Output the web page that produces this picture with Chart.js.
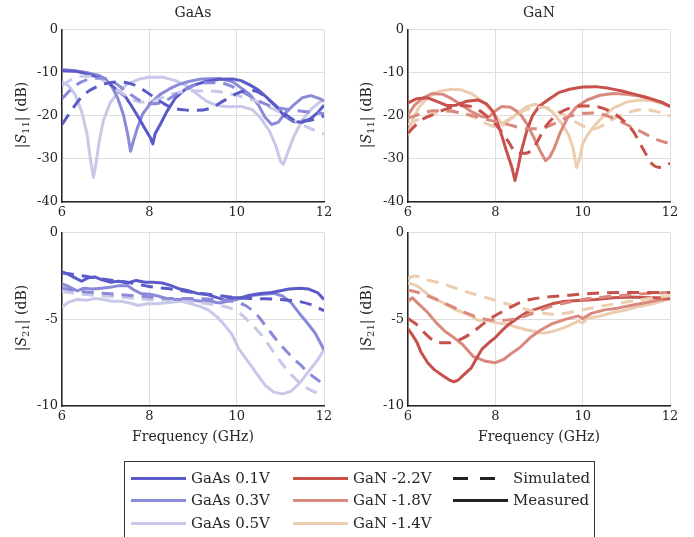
<!DOCTYPE html>
<html>
<head>
<meta charset="utf-8">
<script src="https://cdn.jsdelivr.net/npm/chart.js@4.4.1/dist/chart.umd.min.js"></script>
<style>
  body { margin: 0; background: #fff; }
  #page { position: relative; width: 694px; height: 537px; overflow: hidden; font-family: "DejaVu Serif", serif; color: #262626; }
  canvas { position: absolute; }
  .lbl { position: absolute; white-space: nowrap; font-size: 14px; }
  .ylbl { position: absolute; white-space: nowrap; font-size: 14px; transform: translate(-50%, -50%) rotate(-90deg); }
  .ylbl i { font-style: italic; }
  .ylbl sub { font-size: 10px; vertical-align: -3px; }
  #legend { position: absolute; left: 124px; top: 461px; width: 471px; height: 80px; border: 1px solid #333; box-sizing: border-box; }
  .item { position: absolute; font-size: 15px; line-height: 18px; }
  .sample { position: absolute; height: 3px; }
</style>
</head>
<body>
<div id="page">
  <canvas id="c1"></canvas>
  <canvas id="c2"></canvas>
  <canvas id="c3"></canvas>
  <canvas id="c4"></canvas>
  <div class="lbl" style="left:193px;top:4px;transform:translateX(-50%)">GaAs</div>
  <div class="lbl" style="left:539px;top:4px;transform:translateX(-50%)">GaN</div>
  <div class="ylbl" style="left:22px;top:115px">|<i>S</i><sub>11</sub>| (dB)</div>
  <div class="ylbl" style="left:367px;top:115px">|<i>S</i><sub>11</sub>| (dB)</div>
  <div class="ylbl" style="left:22px;top:318px">|<i>S</i><sub>21</sub>| (dB)</div>
  <div class="ylbl" style="left:367px;top:318px">|<i>S</i><sub>21</sub>| (dB)</div>
  <div class="lbl" style="left:193px;top:428px;transform:translateX(-50%)">Frequency (GHz)</div>
  <div class="lbl" style="left:539px;top:428px;transform:translateX(-50%)">Frequency (GHz)</div>
  <div id="legend"></div>
</div>
<script>
// valores (GHz, dB)
var freqTicks = [6, 8, 10, 12];
var s11Ticks = [0, -10, -20, -30, -40];
var s21Ticks = [0, -5, -10];

var gaasLabels = ['GaAs 0.1V', 'GaAs 0.3V', 'GaAs 0.5V'];
var ganLabels = ['GaN -2.2V', 'GaN -1.8V', 'GaN -1.4V'];
var gaasColors = ['#5a5ac8', '#8a8ad9', '#c8c8e8'];
var ganColors = ['#c8514b', '#da897f', '#eccdaf'];

// GaAs |S11|
var gaasS11Meas01 = [[6,-9.5],[6.3,-9.6],[6.6,-10.3],[6.9,-11.3],[7.1,-12.6],[7.3,-14.3],[7.45,-15.5],[7.6,-17.8],[7.75,-20.3],[7.9,-23],[8.02,-25],[8.08,-26.5],[8.13,-24.2],[8.25,-22],[8.4,-19],[8.6,-15.8],[8.8,-14],[9.0,-12.9],[9.3,-12],[9.6,-11.5],[9.9,-11.4],[10.1,-11.8],[10.3,-12.8],[10.5,-14],[10.7,-15.8],[10.9,-17.8],[11.1,-20],[11.3,-21.3],[11.5,-21.5],[11.7,-20.6],[11.85,-19.3],[12,-17.5]];
var gaasS11Meas03 = [[6,-9.2],[6.3,-9.5],[6.6,-10],[6.85,-10.6],[7.0,-11.5],[7.15,-13.3],[7.28,-16],[7.4,-19.5],[7.5,-24],[7.57,-28.2],[7.63,-26],[7.72,-23],[7.85,-19.5],[8.05,-16.8],[8.25,-15],[8.45,-13.8],[8.65,-12.8],[8.9,-12],[9.2,-11.4],[9.6,-11.3],[9.9,-12],[10.1,-13.5],[10.3,-15],[10.5,-17.5],[10.65,-20.3],[10.8,-22],[10.95,-21.5],[11.1,-19.5],[11.3,-17.5],[11.5,-15.8],[11.7,-15.3],[11.9,-16],[12,-16.5]];
var gaasS11Meas05 = [[6,-12],[6.15,-13],[6.3,-15],[6.45,-19],[6.57,-24],[6.65,-30],[6.72,-34.3],[6.78,-31],[6.85,-26],[6.95,-21],[7.1,-17],[7.3,-14.3],[7.5,-12.6],[7.75,-11.5],[8.0,-11],[8.3,-11],[8.6,-11.8],[8.85,-13],[9.05,-14.6],[9.3,-16.5],[9.55,-17.6],[9.8,-17.9],[10.1,-17.8],[10.35,-18.5],[10.55,-20.5],[10.75,-23.5],[10.9,-27],[11.0,-30.5],[11.07,-31.2],[11.15,-29],[11.3,-25],[11.5,-21],[11.7,-18.5],[11.9,-16.8],[12,-16.4]];
var gaasS11Sim01 = [[6,-22],[6.2,-19],[6.4,-16.2],[6.6,-14.3],[6.8,-13.2],[7.0,-12.5],[7.3,-12.1],[7.6,-12.6],[7.9,-14.2],[8.2,-16.3],[8.5,-18],[8.8,-18.6],[9.1,-18.7],[9.4,-18.2],[9.7,-16.5],[10.0,-14.8],[10.3,-14],[10.5,-14.5],[10.8,-16.8],[11.1,-19.5],[11.4,-21.2],[11.7,-21],[12,-20]];
var gaasS11Sim03 = [[6,-16],[6.3,-13],[6.6,-11.5],[6.9,-11.2],[7.2,-12.3],[7.5,-14.5],[7.8,-16.5],[8.1,-17.2],[8.4,-16.3],[8.7,-14.5],[9.0,-13],[9.3,-12.3],[9.6,-12.3],[9.9,-13.2],[10.2,-14.8],[10.5,-16.5],[10.8,-17.8],[11.1,-18.4],[11.4,-18.8],[11.7,-19.2],[12,-19.5]];
var gaasS11Sim05 = [[6,-13],[6.2,-11.6],[6.45,-10.8],[6.7,-10.8],[6.95,-11.8],[7.2,-13.5],[7.5,-15.5],[7.8,-16.8],[8.1,-16.5],[8.4,-15.3],[8.7,-14.5],[9.0,-14.2],[9.3,-14.2],[9.6,-14.4],[9.9,-15],[10.2,-15.8],[10.5,-16.8],[10.8,-18.2],[11.1,-19.8],[11.4,-21.5],[11.7,-23],[12,-24.2]];

// GaN |S11|
var ganS11Meas22 = [[6,-17],[6.2,-16],[6.45,-15.8],[6.7,-16.8],[6.9,-17.6],[7.1,-17.5],[7.35,-16.6],[7.6,-16.3],[7.8,-17.2],[7.95,-19],[8.1,-23],[8.25,-28],[8.38,-32],[8.45,-35],[8.52,-32],[8.6,-28],[8.72,-23.5],[8.85,-20],[9.0,-17.8],[9.2,-16.3],[9.45,-14.6],[9.7,-13.8],[10.0,-13.3],[10.3,-13.2],[10.6,-13.6],[10.9,-14.2],[11.2,-15],[11.5,-15.8],[11.8,-16.8],[12,-17.8]];
var ganS11Meas18 = [[6,-19.8],[6.15,-17.5],[6.35,-15.8],[6.55,-14.8],[6.8,-15],[7.0,-16],[7.2,-17.3],[7.45,-19],[7.7,-20.2],[7.85,-20.3],[8.0,-18.8],[8.15,-17.8],[8.35,-18],[8.55,-19.3],[8.72,-21.8],[8.88,-25],[9.02,-28],[9.15,-30.4],[9.25,-29.5],[9.35,-27.5],[9.48,-24],[9.65,-20.5],[9.85,-18],[10.1,-16.3],[10.4,-15.2],[10.7,-14.8],[11.0,-15],[11.3,-15.4],[11.6,-16.2],[11.85,-17],[12,-17.8]];
var ganS11Meas14 = [[6,-24.5],[6.1,-21],[6.25,-18],[6.45,-15.8],[6.7,-14.3],[7.0,-13.8],[7.2,-13.9],[7.45,-14.8],[7.7,-16.6],[7.9,-18.7],[8.05,-20.5],[8.18,-22.2],[8.32,-21],[8.5,-19.5],[8.7,-18],[8.9,-17.3],[9.1,-17.8],[9.3,-19],[9.5,-21.5],[9.68,-24.4],[9.78,-27.5],[9.86,-32],[9.93,-30],[10.0,-26.5],[10.12,-24.3],[10.25,-22.5],[10.45,-20.3],[10.7,-18.2],[11.0,-16.8],[11.3,-16.3],[11.6,-16.5],[11.85,-17.2],[12,-17.8]];
var ganS11Sim22 = [[6,-24],[6.3,-21],[6.6,-19.6],[6.9,-18.3],[7.2,-17.6],[7.5,-18],[7.8,-20],[8.05,-22.5],[8.3,-26],[8.5,-28.7],[8.7,-28.7],[8.9,-27],[9.15,-22.5],[9.4,-19.8],[9.7,-18.2],[10.0,-17.7],[10.3,-17.8],[10.6,-18.8],[10.9,-20.8],[11.15,-23.5],[11.4,-28],[11.6,-31.3],[11.8,-32],[12,-31]];
var ganS11Sim18 = [[6,-20.5],[6.3,-19.5],[6.6,-18.8],[6.9,-18.8],[7.2,-19.3],[7.5,-20],[7.8,-20.8],[8.1,-21.5],[8.4,-22.3],[8.7,-23],[9.0,-23],[9.3,-22],[9.6,-20.5],[9.9,-19.6],[10.2,-19.3],[10.5,-19.8],[10.8,-21],[11.1,-22.5],[11.4,-24],[11.7,-25.5],[12,-26.5]];
var ganS11Sim14 = [[6,-22],[6.3,-20.5],[6.6,-19.5],[6.9,-19],[7.2,-19.3],[7.5,-20.3],[7.8,-21.8],[8.0,-22.5],[8.2,-21.5],[8.5,-19.5],[8.8,-18.3],[9.1,-18],[9.4,-18.8],[9.7,-20.5],[10.0,-22.3],[10.25,-23],[10.5,-22],[10.8,-20.2],[11.1,-19],[11.4,-18.5],[11.7,-19],[12,-20]];

// GaAs |S21|
var gaasS21Meas01 = [[6,-2.25],[6.15,-2.4],[6.3,-2.6],[6.45,-2.8],[6.6,-2.6],[6.75,-2.55],[6.9,-2.7],[7.1,-2.85],[7.3,-2.8],[7.5,-2.9],[7.7,-2.75],[7.9,-2.85],[8.1,-2.85],[8.3,-2.9],[8.5,-3.05],[8.7,-3.25],[8.9,-3.35],[9.1,-3.5],[9.3,-3.55],[9.5,-3.7],[9.75,-3.9],[9.9,-3.75],[10.1,-3.75],[10.3,-3.6],[10.55,-3.5],[10.8,-3.45],[11.0,-3.35],[11.2,-3.25],[11.45,-3.2],[11.65,-3.25],[11.85,-3.45],[12,-3.85]];
var gaasS21Meas03 = [[6,-2.95],[6.15,-3.1],[6.35,-3.35],[6.5,-3.2],[6.7,-3.25],[6.9,-3.2],[7.1,-3.15],[7.3,-3.05],[7.5,-3.05],[7.65,-3.3],[7.8,-3.5],[8.0,-3.55],[8.2,-3.65],[8.4,-3.8],[8.6,-3.85],[8.8,-3.85],[9.0,-3.9],[9.2,-3.95],[9.4,-3.95],[9.6,-4.05],[9.8,-3.95],[10.0,-3.85],[10.2,-3.7],[10.4,-3.6],[10.6,-3.55],[10.85,-3.5],[11.05,-3.65],[11.25,-4.05],[11.45,-4.7],[11.6,-5.15],[11.8,-5.8],[12,-6.75]];
var gaasS21Meas05 = [[6,-4.3],[6.15,-4.0],[6.35,-3.85],[6.55,-3.9],[6.75,-3.8],[6.95,-3.85],[7.15,-3.95],[7.35,-3.95],[7.55,-4.05],[7.75,-4.2],[7.95,-4.1],[8.15,-4.1],[8.35,-4.05],[8.55,-4.0],[8.75,-3.95],[8.95,-4.1],[9.15,-4.25],[9.35,-4.45],[9.55,-4.85],[9.75,-5.4],[9.9,-5.9],[10.05,-6.7],[10.25,-7.4],[10.45,-8.1],[10.65,-8.8],[10.85,-9.2],[11.05,-9.3],[11.25,-9.15],[11.45,-8.65],[11.65,-8.0],[11.85,-7.35],[12,-6.75]];
var gaasS21Sim01 = [[6,-2.3],[6.5,-2.5],[7.0,-2.7],[7.5,-2.85],[8.0,-3.1],[8.5,-3.25],[9.0,-3.45],[9.5,-3.6],[10.0,-3.75],[10.5,-3.8],[11.0,-3.85],[11.4,-3.95],[11.7,-4.15],[12,-4.5]];
var gaasS21Sim03 = [[6,-3.2],[6.5,-3.4],[7.0,-3.5],[7.5,-3.6],[8.0,-3.7],[8.5,-3.8],[9.0,-3.8],[9.5,-3.85],[9.9,-3.95],[10.2,-4.2],[10.45,-4.7],[10.7,-5.5],[10.95,-6.3],[11.2,-7.0],[11.45,-7.6],[11.7,-8.2],[12,-8.75]];
var gaasS21Sim05 = [[6,-3.4],[6.5,-3.55],[7.0,-3.65],[7.5,-3.75],[8.0,-3.85],[8.5,-3.9],[9.0,-4.0],[9.5,-4.15],[9.85,-4.35],[10.1,-4.7],[10.35,-5.3],[10.6,-6.0],[10.85,-6.9],[11.1,-7.75],[11.35,-8.45],[11.6,-8.95],[11.85,-9.25],[12,-9.35]];

// GaN |S21|
var ganS21Meas22 = [[6,-5.55],[6.1,-5.9],[6.2,-6.3],[6.3,-6.9],[6.45,-7.5],[6.6,-7.9],[6.8,-8.25],[6.95,-8.5],[7.05,-8.6],[7.15,-8.5],[7.3,-8.15],[7.45,-7.8],[7.58,-7.2],[7.7,-6.7],[7.85,-6.35],[8.0,-6.05],[8.15,-5.65],[8.3,-5.3],[8.5,-4.95],[8.75,-4.55],[9.0,-4.35],[9.3,-4.1],[9.6,-3.95],[10.0,-3.9],[10.3,-3.85],[10.7,-3.75],[11.1,-3.7],[11.5,-3.75],[11.8,-3.75],[12,-3.8]];
var ganS21Meas18 = [[6,-3.95],[6.1,-3.75],[6.2,-4.0],[6.45,-4.6],[6.65,-5.2],[6.85,-5.7],[7.05,-6.05],[7.25,-6.45],[7.5,-7.15],[7.75,-7.4],[8.0,-7.5],[8.2,-7.3],[8.35,-7.0],[8.55,-6.65],[8.8,-6.05],[9.05,-5.6],[9.3,-5.25],[9.6,-5.0],[9.9,-4.8],[10.0,-4.95],[10.2,-4.65],[10.5,-4.45],[10.8,-4.35],[11.1,-4.2],[11.4,-4.05],[11.7,-3.9],[12,-3.8]];
var ganS21Meas14 = [[6,-2.9],[6.2,-3.05],[6.45,-3.55],[6.7,-3.9],[7.05,-4.4],[7.25,-4.6],[7.45,-4.8],[7.6,-5.05],[7.75,-5.05],[8.05,-5.2],[8.3,-5.3],[8.5,-5.45],[8.7,-5.6],[8.9,-5.7],[9.1,-5.8],[9.3,-5.7],[9.5,-5.55],[9.7,-5.35],[9.9,-5.1],[10.0,-5.2],[10.1,-4.95],[10.4,-4.8],[10.7,-4.6],[11.0,-4.45],[11.3,-4.25],[11.6,-4.1],[11.8,-3.95],[12,-3.8]];
var ganS21Sim22 = [[6,-4.95],[6.2,-5.3],[6.45,-5.95],[6.7,-6.35],[6.95,-6.35],[7.2,-6.15],[7.45,-5.8],[7.7,-5.3],[7.95,-4.85],[8.2,-4.5],[8.5,-4.1],[8.8,-3.85],[9.2,-3.7],[9.7,-3.6],[10.2,-3.5],[10.8,-3.45],[11.4,-3.45],[12,-3.45]];
var ganS21Sim18 = [[6,-3.3],[6.3,-3.5],[6.6,-3.8],[7.0,-4.25],[7.4,-4.7],[7.8,-5.0],[8.2,-5.05],[8.5,-4.95],[8.8,-4.7],[9.1,-4.4],[9.5,-4.1],[10.0,-3.85],[10.5,-3.7],[11.0,-3.6],[11.5,-3.5],[12,-3.45]];
var ganS21Sim14 = [[6,-2.65],[6.15,-2.5],[6.4,-2.7],[6.75,-2.9],[7.1,-3.2],[7.4,-3.45],[7.8,-3.75],[8.2,-4.05],[8.6,-4.35],[9.0,-4.6],[9.3,-4.7],[9.6,-4.65],[10.0,-4.45],[10.5,-4.2],[11.0,-4.0],[11.5,-3.8],[12,-3.65]];

var FONT = 'DejaVu Serif';
var PAD_L = 46, PAD_T = 9, PAD_R = 14, PAD_B = 26;

function toXY(arr) {
    return arr.map(function(p) { return { x: p[0], y: p[1] }; });
}

function buildDatasets(sims, meas, colors, labels) {
    var ds = [];
    // los simulados se dibujan encima
    sims.forEach(function(s, i) {
        ds.push({
            label: labels[i] + ' sim',
            data: toXY(s),
            borderColor: colors[i],
            borderWidth: 3,
            borderDash: [12, 8],
            borderCapStyle: 'butt',
            pointRadius: 0,
            fill: false,
            cubicInterpolationMode: 'monotone'
        });
    });
    meas.forEach(function(s, i) {
        ds.push({
            label: labels[i],
            data: toXY(s),
            borderColor: colors[i],
            borderWidth: 3,
            pointRadius: 0,
            fill: false,
            tension: 0,
            borderJoinStyle: 'round'
        });
    });
    return ds;
}

function makePanel(id, box, yTicks, datasets) {
    var canvas = document.getElementById(id);
    var w = box.w + PAD_L + PAD_R;
    var h = box.h + PAD_T + PAD_B;
    canvas.width = w;
    canvas.height = h;
    canvas.style.width = w + 'px';
    canvas.style.height = h + 'px';
    canvas.style.left = (box.x - PAD_L) + 'px';
    canvas.style.top = (box.y - PAD_T) + 'px';

    var tickFont = { family: FONT, size: 13 };
    return new Chart(canvas, {
        type: 'line',
        data: { datasets: datasets },
        options: {
            responsive: false,
            animation: false,
            devicePixelRatio: 1,
            layout: { padding: { left: 0, top: PAD_T, right: PAD_R, bottom: 0 } },
            plugins: { legend: { display: false }, tooltip: { enabled: false } },
            scales: {
                x: {
                    type: 'linear',
                    min: freqTicks[0],
                    max: freqTicks[freqTicks.length - 1],
                    afterBuildTicks: function(scale) {
                        scale.ticks = freqTicks.map(function(v) { return { value: v }; });
                    },
                    afterFit: function(scale) { scale.height = PAD_B; },
                    ticks: { font: tickFont, color: '#262626', padding: 3, maxRotation: 0 },
                    grid: { color: '#dedede', lineWidth: 1, drawTicks: false },
                    border: { color: '#262626', width: 1.5 }
                },
                y: {
                    type: 'linear',
                    min: yTicks[yTicks.length - 1],
                    max: yTicks[0],
                    afterBuildTicks: function(scale) {
                        scale.ticks = yTicks.map(function(v) { return { value: v }; });
                    },
                    afterFit: function(scale) { scale.width = PAD_L; },
                    ticks: { font: tickFont, color: '#262626', padding: 4 },
                    grid: { color: '#dedede', lineWidth: 1, drawTicks: false },
                    border: { color: '#262626', width: 1.5 }
                }
            }
        }
    });
}

makePanel('c1', { x: 62, y: 27, w: 262, h: 175 }, s11Ticks,
    buildDatasets([gaasS11Sim01, gaasS11Sim03, gaasS11Sim05], [gaasS11Meas01, gaasS11Meas03, gaasS11Meas05], gaasColors, gaasLabels));
makePanel('c2', { x: 408, y: 27, w: 262, h: 175 }, s11Ticks,
    buildDatasets([ganS11Sim22, ganS11Sim18, ganS11Sim14], [ganS11Meas22, ganS11Meas18, ganS11Meas14], ganColors, ganLabels));
makePanel('c3', { x: 62, y: 230, w: 262, h: 176 }, s21Ticks,
    buildDatasets([gaasS21Sim01, gaasS21Sim03, gaasS21Sim05], [gaasS21Meas01, gaasS21Meas03, gaasS21Meas05], gaasColors, gaasLabels));
makePanel('c4', { x: 408, y: 230, w: 262, h: 176 }, s21Ticks,
    buildDatasets([ganS21Sim22, ganS21Sim18, ganS21Sim14], [ganS21Meas22, ganS21Meas18, ganS21Meas14], ganColors, ganLabels));

// leyenda en HTML
var legend = document.getElementById('legend');
function addSample(x, y, w, color) {
    var d = document.createElement('div');
    d.className = 'sample';
    d.style.left = x + 'px';
    d.style.top = y + 'px';
    d.style.width = w + 'px';
    d.style.background = color;
    legend.appendChild(d);
}
function addText(x, y, text) {
    var d = document.createElement('div');
    d.className = 'item';
    d.style.left = x + 'px';
    d.style.top = y + 'px';
    d.textContent = text;
    legend.appendChild(d);
}
var rowY = [15, 37, 60];
gaasLabels.forEach(function(t, i) {
    addSample(6, rowY[i], 55, gaasColors[i]);
    addText(66, rowY[i] - 8, t);
});
ganLabels.forEach(function(t, i) {
    addSample(168, rowY[i], 55, ganColors[i]);
    addText(228, rowY[i] - 8, t);
});
addSample(328, rowY[0], 15, '#222');
addSample(355, rowY[0], 15, '#222');
addText(388, rowY[0] - 8, 'Simulated');
addSample(328, rowY[1], 55, '#222');
addText(388, rowY[1] - 8, 'Measured');
</script>
</body>
</html>
